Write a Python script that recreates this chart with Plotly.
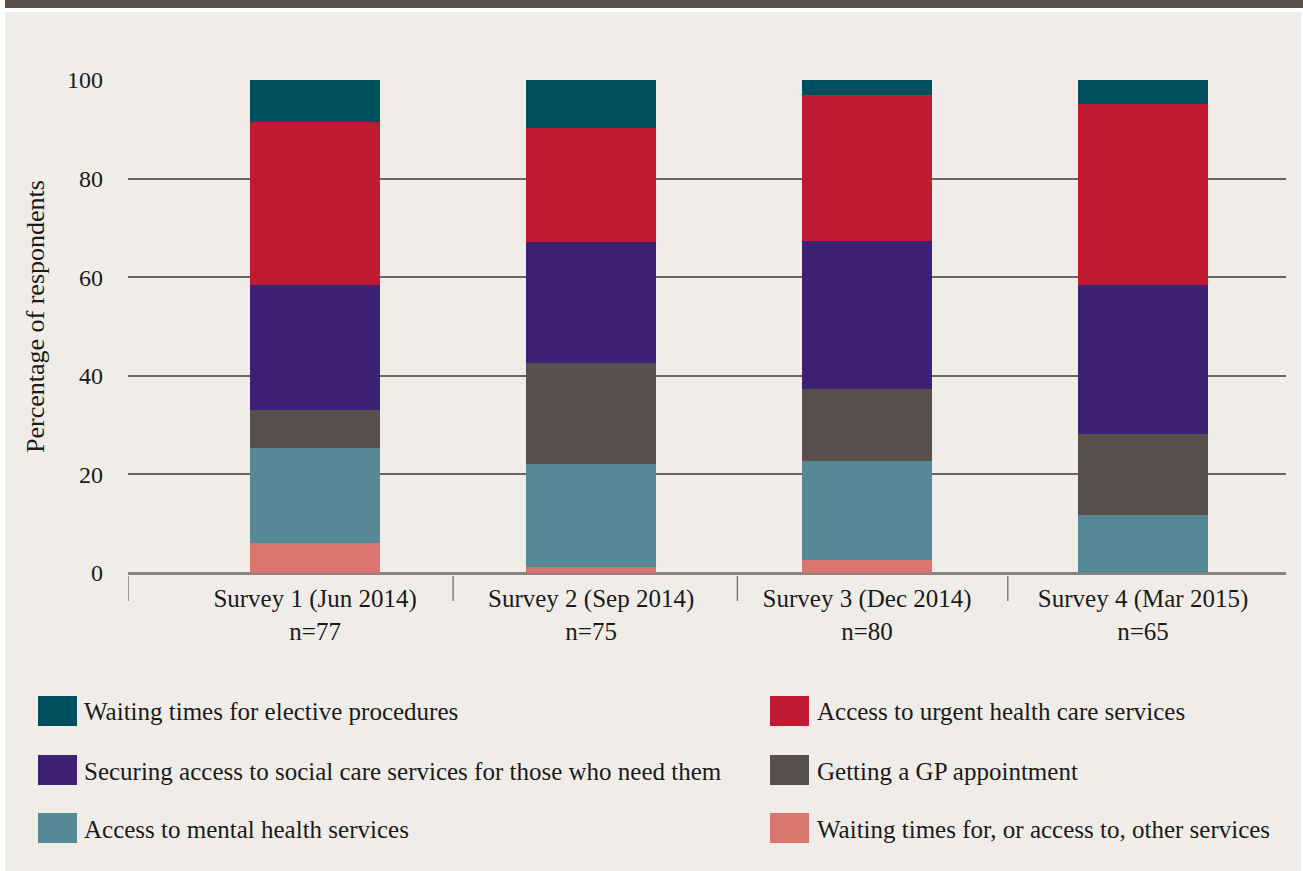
import plotly.graph_objects as go

# survey waves (x) and sample sizes
surveys = ["Survey 1 (Jun 2014)", "Survey 2 (Sep 2014)", "Survey 3 (Dec 2014)", "Survey 4 (Mar 2015)"]
sample_n = [77, 75, 80, 65]

# percentage of respondents per concern
other = [6.0, 1.2, 2.6, 0.0]
mental = [19.3, 20.9, 20.1, 11.7]
gp = [7.7, 20.5, 14.6, 16.4]
social = [25.4, 24.5, 30.0, 30.3]
urgent = [33.1, 23.2, 29.7, 36.7]
elective = [8.5, 9.7, 3.0, 4.9]

y_ticks = [0, 20, 40, 60, 80, 100]

# stack order, bottom to top
series = [
    ("Waiting times for, or access to, other services", other, "#d9756d"),
    ("Access to mental health services", mental, "#568895"),
    ("Getting a GP appointment", gp, "#594f4c"),
    ("Securing access to social care services for those who need them", social, "#3d1f73"),
    ("Access to urgent health care services", urgent, "#c11b34"),
    ("Waiting times for elective procedures", elective, "#004f5d"),
]
# legend layout: column 1 then column 2
legend_cols = [
    ["Waiting times for elective procedures",
     "Securing access to social care services for those who need them",
     "Access to mental health services"],
    ["Access to urgent health care services",
     "Getting a GP appointment",
     "Waiting times for, or access to, other services"],
]

W, H = 1303, 871
L, R, T, B = 128, 17, 80, 298
BG = "#f0ede8"
FONT = "Liberation Serif"
TXT = "#1a1a1a"


def px(x):
    return (x - L) / (W - L - R)


def py(y):
    return (H - B - y) / (H - T - B)


xs = list(range(len(surveys)))
fig = go.Figure()
for name, vals, col in series:
    fig.add_trace(go.Bar(x=xs, y=vals, name=name, marker_color=col,
                         marker_line_width=0, width=0.471, showlegend=False))

shapes = [
    dict(type="rect", xref="paper", yref="paper", x0=px(5), x1=px(1301), y0=py(871), y1=py(12),
         fillcolor=BG, line_width=0, layer="below"),
    dict(type="rect", xref="paper", yref="paper", x0=px(5), x1=px(1303), y0=py(8), y1=py(0),
         fillcolor="#5a504d", line_width=0, layer="below"),
]
# category dividers below the axis
for xb in [-0.678, 0.5, 1.53, 2.51]:
    shapes.append(dict(type="line", xref="x", yref="paper", x0=xb, x1=xb,
                       y0=py(576), y1=py(601), line=dict(color="#6b6561", width=1.2)))

colors = {n: c for n, _, c in series}
annotations = [
    dict(text="Percentage of respondents", xref="paper", yref="paper", x=px(35), y=py(317),
         textangle=-90, showarrow=False, font=dict(family=FONT, size=26, color=TXT),
         xanchor="center", yanchor="middle"),
]
row_y = [711, 770, 828]
col_x = [(38, 77, 82), (770, 809, 815)]
for ci, names in enumerate(legend_cols):
    sx0, sx1, tx = col_x[ci]
    for ri, nm in enumerate(names):
        yc = row_y[ri]
        shapes.append(dict(type="rect", xref="paper", yref="paper", x0=px(sx0), x1=px(sx1),
                           y0=py(yc + 15), y1=py(yc - 15), fillcolor=colors[nm], line_width=0))
        annotations.append(dict(text=nm, xref="paper", yref="paper", x=px(tx), y=py(yc + 1),
                                xanchor="left", yanchor="middle", showarrow=False,
                                font=dict(family=FONT, size=25, color=TXT)))

fig.update_layout(
    barmode="stack",
    width=W, height=H,
    margin=dict(l=L, r=R, t=T, b=B, autoexpand=False),
    paper_bgcolor="white",
    plot_bgcolor="rgba(0,0,0,0)",
    font=dict(family=FONT, size=22, color=TXT),
    shapes=shapes,
    annotations=annotations,
    xaxis=dict(range=[-0.678, 3.518], tickvals=xs,
               ticktext=[f"{s}<br>n={n}" for s, n in zip(surveys, sample_n)],
               showgrid=False, showline=False, zeroline=False, ticks="",
               ticklabelstandoff=8,
               tickfont=dict(family=FONT, size=25, color=TXT), automargin=False),
    yaxis=dict(range=[0, 100], tickvals=y_ticks, showgrid=True, gridcolor="#6b6561",
               gridwidth=1.5, zeroline=True, zerolinecolor="#8a8480", zerolinewidth=2.5,
               showline=False, ticks="", ticklabelstandoff=24,
               tickfont=dict(family=FONT, size=24, color=TXT), automargin=False),
)

fig.write_html("out.html", config={"displayModeBar": False},
               post_script="document.body.style.margin='0';document.body.style.overflow='hidden';")
